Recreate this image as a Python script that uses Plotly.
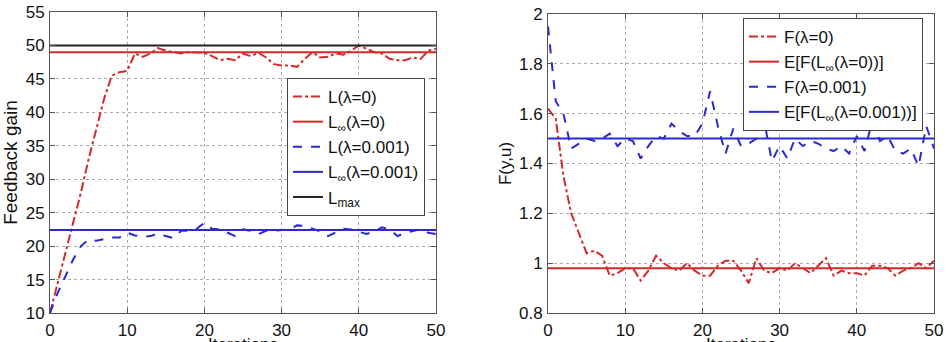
import plotly.graph_objects as go

iters = list(range(51))

L_lam0 = [10, 14.5, 19, 23.5, 28, 33, 37.5, 42, 45.5, 46, 46.2, 48.8, 48.3, 48.8, 49.6, 49.2, 49,
          48.8, 49, 49, 48.9, 48.4, 47.8, 48, 47.8, 48.8, 48.4, 48.9, 48.2, 47.2, 47, 47, 46.8,
          48, 49, 48.2, 48.3, 48.8, 48.6, 49.2, 50, 49.5, 49, 48.8, 48, 47.8, 47.8, 48.2, 48,
          49.2, 49.5]
L_inf_lam0 = 49.0
L_lam001 = [10, 13, 15.5, 18, 20, 21, 20.8, 21, 21.3, 21.3, 22, 21.6, 21.4, 21.5, 21.9, 21.5, 21.2,
            22.3, 22.3, 22.6, 23.5, 22.6, 22.5, 22, 21.5, 22.5, 22.3, 21.8, 22.3, 22.3, 22.4, 22.5,
            23.1, 23, 22.6, 22.2, 21.5, 22, 22.6, 22.5, 22.1, 21.8, 22.2, 22.8, 22.5, 21.5, 22,
            22.3, 22.5, 22, 21.8]
L_inf_lam001 = 22.4
L_max = 50.0

F_lam0 = [1.62, 1.58, 1.35, 1.2, 1.12, 1.04, 1.05, 1.03, 0.95, 0.96, 0.98, 0.98, 0.93, 0.97, 1.03,
          1.0, 0.98, 0.97, 1.0, 0.97, 0.95, 0.95, 0.99, 1.01, 1.01, 0.97, 0.92, 1.02, 0.97, 0.96,
          0.98, 0.97, 1.0, 0.98, 0.96, 0.99, 1.02, 0.95, 0.97, 0.96, 0.96, 0.95, 0.99, 0.99, 0.98,
          0.95, 0.97, 0.98, 1.0, 0.98, 1.01]
EF_lam0 = 0.98
F_lam001 = [1.95, 1.65, 1.6, 1.46, 1.48, 1.5, 1.49, 1.5, 1.52, 1.47, 1.5, 1.49, 1.42, 1.47, 1.51,
            1.5, 1.56, 1.53, 1.51, 1.51, 1.56, 1.69, 1.55, 1.44, 1.54, 1.47, 1.48, 1.5, 1.57, 1.41,
            1.47, 1.42, 1.5, 1.47, 1.49, 1.48, 1.46, 1.45, 1.47, 1.44, 1.51, 1.45, 1.57, 1.49, 1.51,
            1.45, 1.44, 1.46, 1.39, 1.55, 1.46]
EF_lam001 = 1.5

x_ticks = [0, 10, 20, 30, 40, 50]
y1_ticks = [10, 15, 20, 25, 30, 35, 40, 45, 50, 55]
y2_ticks = [0.8, 1, 1.2, 1.4, 1.6, 1.8, 2]
y2_ticklabels = ["0.8", "1", "1.2", "1.4", "1.6", "1.8", "2"]
x_title = "Iterations"

RED = "#d42a2a"
BLUE = "#2a2ad0"
BLACK = "#222222"
FONT = "Liberation Sans, Arial, sans-serif"
FS = 17

fig = go.Figure()
xs = [iters[0], iters[-1]]

def add(x, y, name, color, dash, xa, ya, leg, grp):
    fig.add_trace(go.Scatter(x=x, y=y, mode="lines", name=name,
                             line=dict(color=color, dash=dash, width=2),
                             xaxis=xa, yaxis=ya, legend=leg, legendgroup=grp))

add(iters, L_lam0, "L(λ=0)", RED, "dashdot", "x", "y", "legend", "a1")
add(xs, [L_inf_lam0] * 2, "L<sub>∞</sub>(λ=0)", RED, "solid", "x", "y", "legend", "a2")
add(iters, L_lam001, "L(λ=0.001)", BLUE, "dash", "x", "y", "legend", "a3")
add(xs, [L_inf_lam001] * 2, "L<sub>∞</sub>(λ=0.001)", BLUE, "solid", "x", "y", "legend", "a4")
add(xs, [L_max] * 2, "L<sub>max</sub>", BLACK, "solid", "x", "y", "legend", "a5")

add(iters, F_lam0, "F(λ=0)", RED, "dashdot", "x2", "y2", "legend2", "b1")
add(xs, [EF_lam0] * 2, "E[F(L<sub>∞</sub>(λ=0))]", RED, "solid", "x2", "y2", "legend2", "b2")
add(iters, F_lam001, "F(λ=0.001)", BLUE, "dash", "x2", "y2", "legend2", "b3")
add(xs, [EF_lam001] * 2, "E[F(L<sub>∞</sub>(λ=0.001))]", BLUE, "solid", "x2", "y2", "legend2", "b4")

W, H = 948, 342
axis_common = dict(showline=True, linecolor="#555555", linewidth=1, mirror="ticks",
                   ticks="inside", ticklen=5, tickcolor="#555555", automargin=False,
                   showgrid=True, gridcolor="#aaaaaa", griddash="dot", gridwidth=1,
                   zeroline=False, tickfont=dict(size=FS, color="#111111", family=FONT))

x1_dom = [50 / W, 436 / W]
x2_dom = [548 / W, 934 / W]

fig.update_layout(
    width=W, height=H, margin=dict(l=0, r=0, t=0, b=0, autoexpand=False),
    paper_bgcolor="white", plot_bgcolor="white",
    font=dict(family=FONT, size=FS, color="#111111"),
    xaxis=dict(domain=x1_dom, range=[0, 50], tickvals=x_ticks, anchor="y",
               ticklabelstandoff=2, **axis_common),
    yaxis=dict(domain=[1 - 313 / H, 1 - 12 / H], range=[10, 55], tickvals=y1_ticks, anchor="x",
               ticklabelstandoff=1,
               title=dict(text="Feedback gain", standoff=8, font=dict(size=19)), **axis_common),
    xaxis2=dict(domain=x2_dom, range=[0, 50], tickvals=x_ticks, anchor="y2",
                ticklabelstandoff=2, **axis_common),
    yaxis2=dict(domain=[1 - 313 / H, 1 - 14 / H], range=[0.8, 2], tickvals=y2_ticks,
                ticktext=y2_ticklabels, anchor="x2", ticklabelstandoff=1,
                title=dict(text="F(y,u)", standoff=3, font=dict(size=FS)), **axis_common),
    legend=dict(x=287 / W, y=1 - 78 / H, xanchor="left", yanchor="top",
                bgcolor="white", bordercolor="#444444", borderwidth=1,
                font=dict(size=FS, family=FONT), tracegroupgap=0, itemwidth=30),
    legend2=dict(x=743 / W, y=1 - 18 / H, xanchor="left", yanchor="top",
                 bgcolor="white", bordercolor="#444444", borderwidth=1,
                 font=dict(size=FS, family=FONT), tracegroupgap=0, itemwidth=30),
    showlegend=True,
)

for dom in (x1_dom, x2_dom):
    fig.add_annotation(text=x_title, xref="paper", yref="paper",
                       x=(dom[0] + dom[1]) / 2, y=1 - 333 / H, xanchor="center", yanchor="top",
                       showarrow=False, font=dict(size=FS, family=FONT, color="#111111"))

fig.write_html("out.html")
